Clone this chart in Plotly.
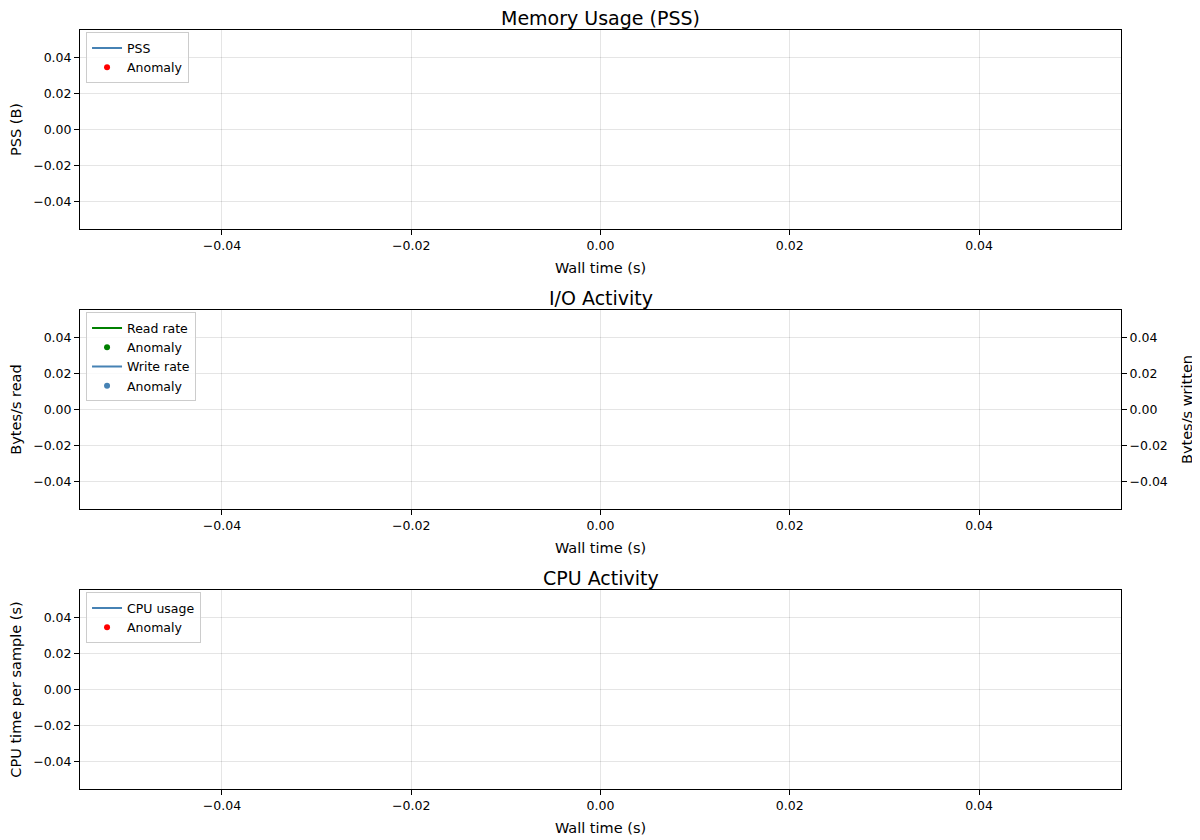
import plotly.graph_objects as go

# no samples were recorded, every series is empty
wall_time = []
pss_bytes = []
pss_anomaly_time = []
pss_anomaly_bytes = []
read_rate = []
write_rate = []
read_anomaly_time = []
read_anomaly_rate = []
write_anomaly_time = []
write_anomaly_rate = []
cpu_time = []
cpu_anomaly_time = []
cpu_anomaly_value = []

tick_vals = [-0.04, -0.02, 0.0, 0.02, 0.04]
axis_range = [-0.055, 0.055]

steelblue = '#4682b4'
font = 'DejaVu Sans'


def series(vals):
    # plotly drops empty traces from the legend, a single gap keeps the entry
    return vals if len(vals) else [None]


fig = go.Figure()

# memory
fig.add_trace(go.Scatter(x=series(wall_time), y=series(pss_bytes), mode='lines', name='PSS',
                         line=dict(color=steelblue, width=2), xaxis='x', yaxis='y', legend='legend'))
fig.add_trace(go.Scatter(x=series(pss_anomaly_time), y=series(pss_anomaly_bytes), mode='markers',
                         name='Anomaly', marker=dict(color='red', size=6),
                         xaxis='x', yaxis='y', legend='legend'))

# io
fig.add_trace(go.Scatter(x=series(wall_time), y=series(read_rate), mode='lines', name='Read rate',
                         line=dict(color='green', width=2), xaxis='x2', yaxis='y2', legend='legend2'))
fig.add_trace(go.Scatter(x=series(read_anomaly_time), y=series(read_anomaly_rate), mode='markers',
                         name='Anomaly', marker=dict(color='green', size=6),
                         xaxis='x2', yaxis='y2', legend='legend2'))
fig.add_trace(go.Scatter(x=series(wall_time), y=series(write_rate), mode='lines', name='Write rate',
                         line=dict(color=steelblue, width=2), xaxis='x2', yaxis='y4', legend='legend2'))
fig.add_trace(go.Scatter(x=series(write_anomaly_time), y=series(write_anomaly_rate), mode='markers',
                         name='Anomaly', marker=dict(color=steelblue, size=6),
                         xaxis='x2', yaxis='y4', legend='legend2'))

# cpu
fig.add_trace(go.Scatter(x=series(wall_time), y=series(cpu_time), mode='lines', name='CPU usage',
                         line=dict(color=steelblue, width=2), xaxis='x3', yaxis='y3', legend='legend3'))
fig.add_trace(go.Scatter(x=series(cpu_anomaly_time), y=series(cpu_anomaly_value), mode='markers',
                         name='Anomaly', marker=dict(color='red', size=6),
                         xaxis='x3', yaxis='y3', legend='legend3'))

domains = [[0.7378, 1.0], [0.3689, 0.6311], [0.0, 0.2622]]

ax_common = dict(range=axis_range, tickvals=tick_vals, tickformat='.2f',
                 showline=True, linecolor='black', linewidth=1, mirror=True,
                 ticks='outside', ticklen=5, tickcolor='black',
                 showgrid=True, gridcolor='rgba(0,0,0,0.1)', gridwidth=1,
                 zeroline=False, automargin=False, tickfont=dict(size=12.5, color='black'))

label_font = dict(size=14.5)

layout = dict(
    width=1192, height=832,
    margin=dict(l=72, r=79, t=22, b=51),
    paper_bgcolor='white', plot_bgcolor='white',
    font=dict(family=font, color='black'),
    showlegend=True,
)

for i, dom in enumerate(domains, start=1):
    sx = '' if i == 1 else str(i)
    layout['xaxis' + sx] = dict(ax_common, anchor='y' + sx,
                                title=dict(text='Wall time (s)', font=label_font, standoff=10))
    layout['yaxis' + sx] = dict(ax_common, anchor='x' + sx, domain=dom)

layout['yaxis']['title'] = dict(text='PSS (B)', font=label_font, standoff=12)
layout['yaxis2']['title'] = dict(text='Bytes/s read', font=label_font, standoff=12)
layout['yaxis3']['title'] = dict(text='CPU time per sample (s)', font=label_font, standoff=12)
layout['yaxis2']['mirror'] = False
layout['yaxis4'] = dict(ax_common, overlaying='y2', side='right', anchor='x2', showgrid=False,
                        mirror=False, title=dict(text='Bytes/s written', font=label_font, standoff=14))

legend_style = dict(bgcolor='rgba(255,255,255,0.8)', bordercolor='#cccccc', borderwidth=1,
                    font=dict(size=12.5), xanchor='left', yanchor='top', x=0.0058,
                    itemsizing='trace', tracegroupgap=0)
layout['legend'] = dict(legend_style, y=domains[0][1] - 0.003)
layout['legend2'] = dict(legend_style, y=domains[1][1] - 0.003)
layout['legend3'] = dict(legend_style, y=domains[2][1] - 0.003)

titles = ['Memory Usage (PSS)', 'I/O Activity', 'CPU Activity']
layout['annotations'] = [
    dict(text=t, x=0.5, y=dom[1], xref='paper', yref='paper', xanchor='center', yanchor='bottom',
         yshift=-1.5, showarrow=False, font=dict(size=19))
    for t, dom in zip(titles, domains)
]

fig.update_layout(**layout)

fig.write_html("out.html")
